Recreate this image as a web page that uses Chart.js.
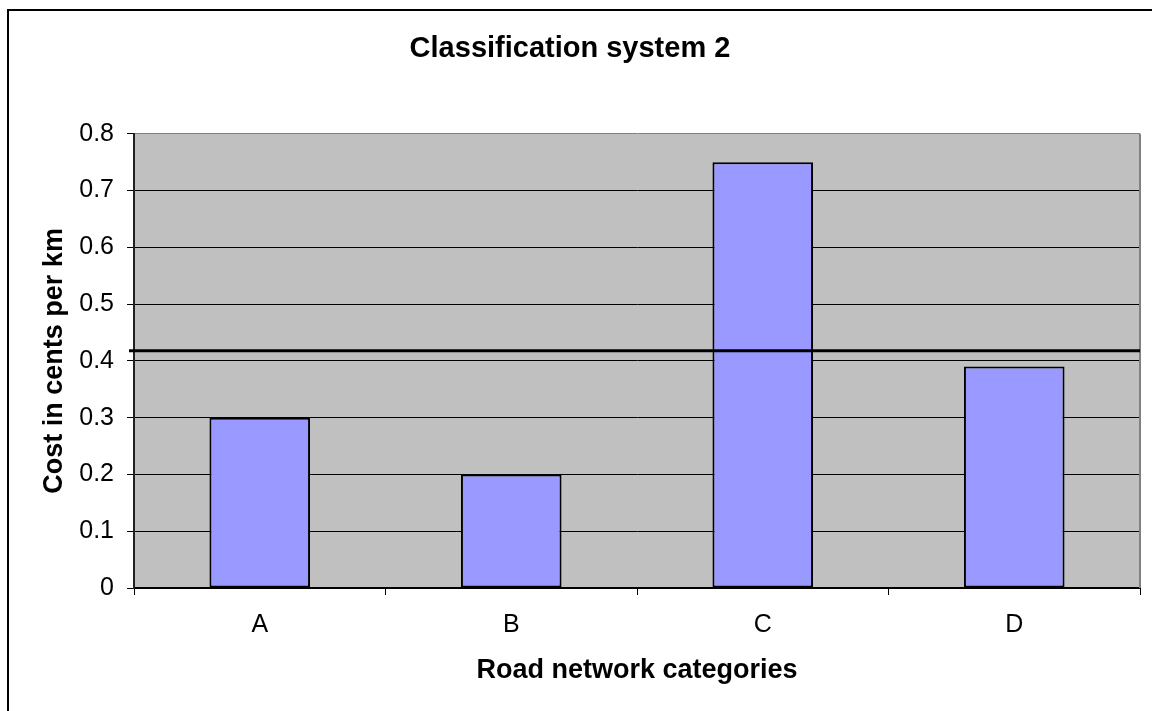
<!DOCTYPE html>
<html>
<head>
<meta charset="utf-8">
<title>Classification system 2</title>
<script src="https://cdn.jsdelivr.net/npm/chart.js@4/dist/chart.umd.min.js"></script>
<style>
  html, body { margin: 0; padding: 0; background: #ffffff; }
  #wrap { position: relative; width: 1152px; height: 711px; overflow: hidden; }
  canvas { display: block; }
</style>
</head>
<body>
<div id="wrap"><canvas id="chart" width="1152" height="711"></canvas></div>
<script>
// Road network categories and their cost (cents per km)
const categories = ['A', 'B', 'C', 'D'];
const costPerKm = [0.30, 0.20, 0.75, 0.39];
// Reference level drawn as a thick horizontal line across the plot
const referenceCost = 0.418;

const chartTitle = 'Classification system 2';
const xAxisTitle = 'Road network categories';
const yAxisTitle = 'Cost in cents per km';

const FONT = '"Liberation Sans", Arial, Helvetica, sans-serif';

// Page background, plot background and the outer frame
const framePlugin = {
  id: 'frame',
  beforeDraw(chart) {
    const { ctx, chartArea: a } = chart;
    ctx.save();
    ctx.fillStyle = '#ffffff';
    ctx.fillRect(0, 0, chart.width, chart.height);
    ctx.fillStyle = '#C0C0C0';
    ctx.fillRect(a.left, a.top, a.right - a.left, a.bottom - a.top);
    ctx.strokeStyle = '#000000';
    ctx.lineWidth = 2;
    ctx.strokeRect(8, 10, chart.width + 40, chart.height + 40);
    ctx.restore();
  },
  beforeDatasetsDraw(chart) {
    const { ctx, chartArea: a } = chart;
    ctx.save();
    ctx.strokeStyle = '#808080';
    ctx.lineWidth = 2;
    ctx.beginPath();
    ctx.moveTo(a.right, a.top);
    ctx.lineTo(a.right, a.bottom);
    ctx.stroke();
    ctx.restore();
  }
};

new Chart(document.getElementById('chart'), {
  data: {
    labels: categories,
    datasets: [
      {
        type: 'bar',
        data: costPerKm,
        backgroundColor: '#9999FF',
        borderColor: '#000000',
        borderWidth: 2,
        borderSkipped: false,
        grouped: false,
        categoryPercentage: 1.0,
        barPercentage: 0.4,
        order: 2
      },
      {
        type: 'line',
        xAxisID: 'xLine',
        data: [{ x: -0.005, y: referenceCost }, { x: 1, y: referenceCost }],
        borderColor: '#000000',
        borderWidth: 3,
        pointRadius: 0,
        fill: false,
        clip: false,
        order: 1
      }
    ]
  },
  options: {
    responsive: false,
    animation: false,
    events: [],
    layout: { padding: { left: 0, right: 12, top: 0, bottom: 0 } },
    plugins: {
      legend: { display: false },
      tooltip: { enabled: false },
      title: {
        display: true,
        text: chartTitle,
        color: '#000000',
        font: { family: FONT, size: 29, weight: 'bold', lineHeight: 1.2 },
        padding: { top: 32, bottom: 67 }
      }
    },
    scales: {
      x: {
        type: 'category',
        offset: true,
        grid: {
          offset: true,
          drawOnChartArea: false,
          drawTicks: true,
          tickLength: 7,
          tickColor: '#000000',
          tickWidth: 1
        },
        border: { display: true, color: '#000000', width: 2 },
        ticks: {
          color: '#000000',
          font: { family: FONT, size: 25 },
          padding: 15
        },
        title: {
          display: true,
          text: xAxisTitle,
          color: '#000000',
          font: { family: FONT, size: 27, weight: 'bold', lineHeight: 1.2 },
          padding: { top: 0, bottom: 24 }
        },
        afterFit(scale) { scale.height = 123; }
      },
      xLine: {
        type: 'linear',
        display: false,
        min: 0,
        max: 1
      },
      y: {
        type: 'linear',
        min: 0,
        max: 0.8,
        ticks: {
          stepSize: 0.1,
          color: '#000000',
          font: { family: FONT, size: 25 },
          padding: 13,
          callback: (v) => String(Math.round(v * 10) / 10)
        },
        grid: {
          color: (c) => (c.tick && Math.abs(c.tick.value - 0.8) < 1e-9) ? '#808080' : '#000000',
          lineWidth: 1,
          drawTicks: true,
          tickLength: 7,
          tickColor: '#000000'
        },
        border: { display: true, color: '#202020', width: 2 },
        title: {
          display: true,
          text: yAxisTitle,
          color: '#000000',
          font: { family: FONT, size: 27, weight: 'bold', lineHeight: 1.2 },
          padding: { top: 38, bottom: 0 }
        },
        afterFit(scale) { scale.width = 134; }
      }
    }
  },
  plugins: [framePlugin]
});
</script>
</body>
</html>
